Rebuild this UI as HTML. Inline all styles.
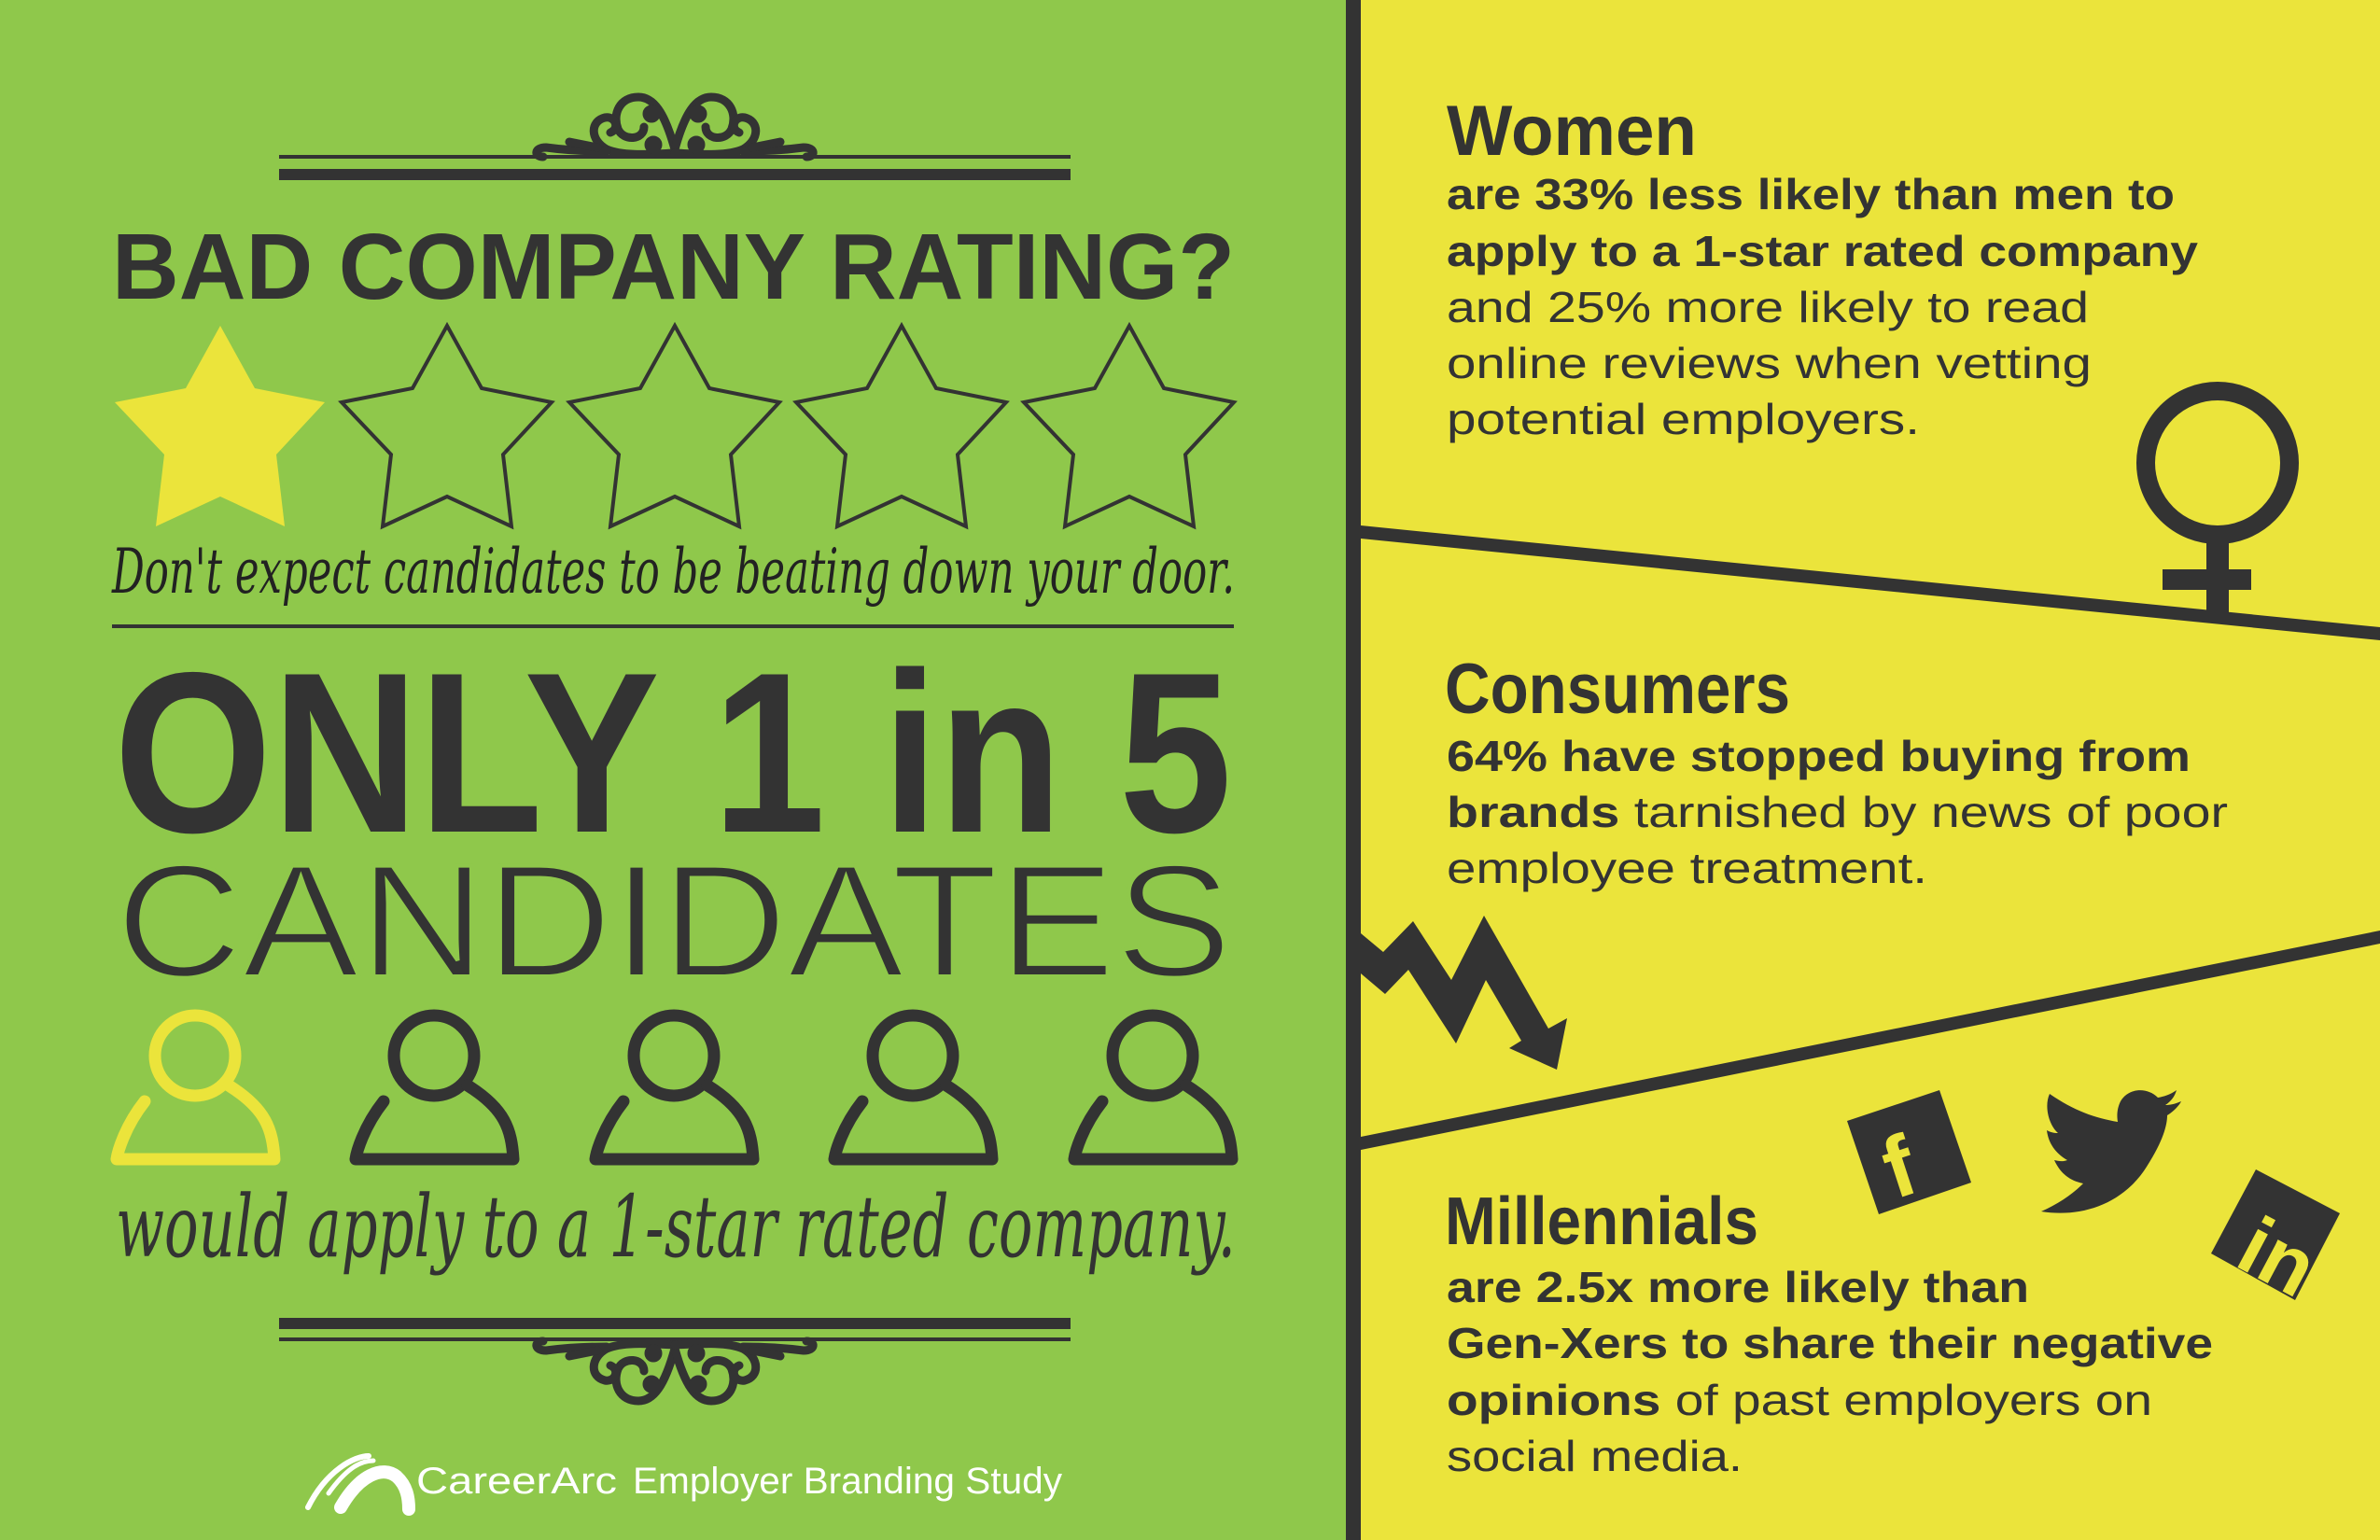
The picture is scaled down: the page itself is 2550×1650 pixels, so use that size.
<!DOCTYPE html>
<html><head><meta charset="utf-8"><style>
html,body{margin:0;padding:0;background:#8fc84b;}
svg{display:block}
text{font-family:"Liberation Sans",sans-serif;}
</style></head><body>
<svg width="2550" height="1650" viewBox="0 0 2550 1650" xmlns="http://www.w3.org/2000/svg">
<defs>
<g id="orn" fill="none" stroke="#333" stroke-width="9" stroke-linecap="round">
  <path d="M723 160 C712 120 700 104 684 104 C664 104 656 122 662 138 C668 152 690 150 690 136"/>
  <path d="M723 160 C734 120 746 104 762 104 C782 104 790 122 784 138 C778 152 756 150 756 136"/>
  <path d="M723 164 C700 165 668 168 650 160 C632 150 632 130 648 126 C660 124 664 138 654 142"/>
  <path d="M723 164 C746 165 778 168 796 160 C814 150 814 130 798 126 C786 124 782 138 792 142"/>
  <path d="M650 162 C620 162 600 160 585 158 C572 158 572 168 582 168"/>
  <path d="M796 162 C826 162 846 160 861 158 C874 158 874 168 864 168"/>
  <circle cx="698" cy="122" r="5" fill="#333"/>
  <circle cx="748" cy="122" r="5" fill="#333"/>
  <circle cx="700" cy="155" r="5" fill="#333"/>
  <circle cx="746" cy="155" r="5" fill="#333"/>
  <path d="M610 152 L640 158 M836 152 L806 158"/>
</g>
<polygon id="star" points="0,349 37,416 112,431 60,487 69,564 0,532 -69,564 -60,487 -113,431 -37,416"/>
<g id="person" fill="none" stroke-width="13" stroke-linejoin="round" stroke-linecap="round">
  <ellipse cx="0" cy="1131" rx="43" ry="43"/>
  <path d="M-54 1180 C-76 1208 -83 1235 -84 1242 L85 1242 C83 1210 76 1188 36 1163"/>
</g>
</defs>

<rect x="0" y="0" width="1445" height="1650" fill="#8fc84b"/>
<rect x="1458" y="0" width="1092" height="1650" fill="#ebe43b"/>
<rect x="1442" y="0" width="16" height="1650" fill="#333"/>

<use href="#orn"/>
<rect x="299" y="166" width="848" height="4" fill="#333"/>
<rect x="299" y="181" width="848" height="12" fill="#333"/>

<text x="120" y="320" font-size="100" font-weight="bold" fill="#333" textLength="1203" lengthAdjust="spacingAndGlyphs">BAD COMPANY RATING?</text>

<use href="#star" transform="translate(236,0)" fill="#ebe43b"/>
<use href="#star" transform="translate(479,0)" fill="none" stroke="#333" stroke-width="4"/>
<use href="#star" transform="translate(723,0)" fill="none" stroke="#333" stroke-width="4"/>
<use href="#star" transform="translate(966,0)" fill="none" stroke="#333" stroke-width="4"/>
<use href="#star" transform="translate(1210,0)" fill="none" stroke="#333" stroke-width="4"/>

<text x="120" y="635" font-size="66" font-style="italic" fill="#222" style="font-family:'DejaVu Serif','Liberation Serif',serif" textLength="1203" lengthAdjust="spacingAndGlyphs">Don't expect candidates to be beating down your door.</text>
<rect x="120" y="669" width="1202" height="4" fill="#333"/>

<text x="122" y="891" font-size="245" font-weight="bold" fill="#333" textLength="1198" lengthAdjust="spacingAndGlyphs">ONLY 1 in 5</text>
<text x="124" y="1046" font-size="172" fill="#333" stroke="#8fc84b" stroke-width="4" paint-order="fill" textLength="1196" lengthAdjust="spacingAndGlyphs">CANDIDATES</text>

<use href="#person" transform="translate(209,0)" stroke="#ebe43b"/>
<use href="#person" transform="translate(465,0)" stroke="#333"/>
<use href="#person" transform="translate(722,0)" stroke="#333"/>
<use href="#person" transform="translate(978,0)" stroke="#333"/>
<use href="#person" transform="translate(1235,0)" stroke="#333"/>

<text x="124" y="1346" font-size="92" font-style="italic" fill="#333" style="font-family:'DejaVu Serif','Liberation Serif',serif" textLength="1200" lengthAdjust="spacingAndGlyphs">would apply to a 1-star rated company.</text>

<rect x="299" y="1412" width="848" height="12" fill="#333"/>
<rect x="299" y="1433" width="848" height="4" fill="#333"/>
<use href="#orn" transform="translate(0,1605) scale(1,-1)"/>

<g fill="none" stroke="#fff" stroke-linecap="round">
  <path d="M330 1615 C350 1575 380 1560 395 1560" stroke-width="6"/>
  <path d="M352 1600 C370 1575 385 1565 400 1565" stroke-width="5"/>
  <path d="M365 1615 C385 1580 410 1570 425 1582 C436 1592 438 1605 438 1617" stroke-width="14"/>
</g>
<text x="446" y="1600" font-size="40" fill="#fff" textLength="215" lengthAdjust="spacingAndGlyphs">CareerArc</text>
<text x="678" y="1600" font-size="40" fill="#fff" textLength="460" lengthAdjust="spacingAndGlyphs">Employer Branding Study</text>

<g fill="#333">
<text x="1550" y="166" font-size="76" font-weight="bold" textLength="268" lengthAdjust="spacingAndGlyphs">Women</text>
<text x="1550" y="224" font-size="46" font-weight="bold" textLength="780" lengthAdjust="spacingAndGlyphs">are 33% less likely than men to</text>
<text x="1550" y="285" font-size="46" font-weight="bold" textLength="805" lengthAdjust="spacingAndGlyphs">apply to a 1-star rated company</text>
<text x="1550" y="345" font-size="46" textLength="688" lengthAdjust="spacingAndGlyphs">and 25% more likely to read</text>
<text x="1550" y="405" font-size="46" textLength="691" lengthAdjust="spacingAndGlyphs">online reviews when vetting</text>
<text x="1550" y="465" font-size="46" textLength="507" lengthAdjust="spacingAndGlyphs">potential employers.</text>

<text x="1548" y="764" font-size="76" font-weight="bold" textLength="370" lengthAdjust="spacingAndGlyphs">Consumers</text>
<text x="1550" y="826" font-size="46" font-weight="bold" textLength="797" lengthAdjust="spacingAndGlyphs">64% have stopped buying from</text>
<text x="1550" y="886" font-size="46" textLength="837" lengthAdjust="spacingAndGlyphs"><tspan font-weight="bold">brands</tspan> tarnished by news of poor</text>
<text x="1550" y="946" font-size="46" textLength="515" lengthAdjust="spacingAndGlyphs">employee treatment.</text>

<text x="1548" y="1333" font-size="72" font-weight="bold" textLength="336" lengthAdjust="spacingAndGlyphs">Millennials</text>
<text x="1550" y="1395" font-size="46" font-weight="bold" textLength="624" lengthAdjust="spacingAndGlyphs">are 2.5x more likely than</text>
<text x="1550" y="1455" font-size="46" font-weight="bold" textLength="821" lengthAdjust="spacingAndGlyphs">Gen-Xers to share their negative</text>
<text x="1550" y="1516" font-size="46" textLength="756" lengthAdjust="spacingAndGlyphs"><tspan font-weight="bold">opinions</tspan> of past employers on</text>
<text x="1550" y="1576" font-size="46" textLength="317" lengthAdjust="spacingAndGlyphs">social media.</text>

<polygon points="1458,563 2550,672 2550,686 1458,577"/>
<polygon points="1458,1218 2550,997 2550,1011 1458,1232"/>

<circle cx="2376" cy="496" r="77" fill="none" stroke="#333" stroke-width="20"/>
<rect x="2364" y="570" width="24" height="95"/>
<rect x="2317" y="610" width="95" height="22"/>

<polygon points="1458,1000 1482,1020 1514,987 1555,1050 1590,981 1659,1102 1679,1091 1668,1146 1617,1123 1630,1115 1592,1050 1560,1118 1509,1039 1484,1065 1458,1043"/>

<polygon points="1979,1201 2078,1168 2112,1267 2013,1301"/>
<text x="0" y="0" font-size="92" font-weight="bold" fill="#ebe43b" transform="translate(2030,1285) rotate(-18)">f</text>

<path d="M2187 1298 C2230 1305 2275 1290 2300 1250 C2318 1222 2322 1205 2322 1195 C2330 1190 2335 1184 2337 1180 C2330 1183 2325 1184 2320 1184 C2326 1180 2330 1175 2332 1168 C2325 1173 2318 1175 2312 1176 C2300 1164 2280 1166 2272 1180 C2268 1188 2268 1196 2269 1202 C2245 1198 2222 1190 2196 1172 C2190 1185 2195 1205 2205 1214 C2200 1214 2197 1213 2193 1211 C2195 1228 2206 1238 2215 1243 C2210 1245 2205 1244 2201 1243 C2208 1258 2218 1265 2232 1268 C2220 1280 2205 1290 2187 1298 Z"/>

<polygon points="2417,1253 2507,1300 2459,1393 2369,1343"/>
<text x="0" y="0" font-size="88" font-weight="bold" fill="#ebe43b" transform="translate(2392,1355) rotate(28)">in</text>
</g>
</svg>
</body></html>
